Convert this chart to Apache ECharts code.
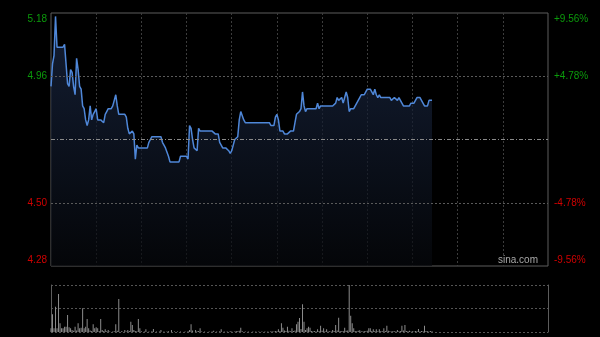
<!DOCTYPE html>
<html><head><meta charset="utf-8">
<script src="https://cdn.jsdelivr.net/npm/echarts@6/dist/echarts.min.js"></script>
<style>html,body{margin:0;padding:0;background:#000;}#c{width:600px;height:337px;}</style>
</head><body><div id="c"></div>
<script>
// ---- data ----
const prevClose = 4.73;
const sessionMinutes = 330;           // HK trading day, minute slots
const pctTicks = [-9.56, -4.78, 0, 4.78, 9.56];
const leftTickLabels = ['4.28', '4.50', '', '4.96', '5.18'];
const rightTickLabels = ['-9.56%', '-4.78%', '', '+4.78%', '+9.56%'];

const prices = [
  4.92,5.00,5.03,5.17,5.06,5.06,5.06,5.06,5.06,5.07,
  5.07,4.93,4.92,4.98,4.97,4.92,4.89,5.02,4.98,4.92,
  4.91,4.85,4.84,4.80,4.78,4.80,4.85,4.80,4.82,4.83,
  4.84,4.80,4.80,4.80,4.80,4.79,4.82,4.83,4.84,4.84,
  4.84,4.85,4.87,4.89,4.85,4.82,4.82,4.82,4.82,4.82,
  4.81,4.77,4.75,4.75,4.76,4.75,4.66,4.71,4.70,4.70,
  4.70,4.70,4.70,4.70,4.70,4.72,4.73,4.74,4.74,4.74,
  4.74,4.74,4.74,4.74,4.72,4.71,4.70,4.70,4.67,4.65,
  4.65,4.65,4.65,4.65,4.65,4.65,4.67,4.67,4.67,4.67,
  4.67,4.66,4.78,4.77,4.73,4.70,4.70,4.69,4.77,4.76,
  4.76,4.76,4.76,4.76,4.76,4.76,4.76,4.76,4.76,4.75,
  4.75,4.75,4.72,4.71,4.70,4.70,4.70,4.70,4.69,4.68,
  4.69,4.71,4.73,4.73,4.74,4.80,4.83,4.83,4.80,4.79,
  4.79,4.79,4.79,4.79,4.79,4.79,4.79,4.79,4.79,4.79,
  4.79,4.79,4.79,4.79,4.79,4.79,4.78,4.78,4.78,4.81,
  4.82,4.80,4.76,4.76,4.76,4.75,4.75,4.75,4.75,4.76,
  4.76,4.76,4.79,4.82,4.82,4.83,4.84,4.90,4.85,4.83,
  4.84,4.84,4.84,4.84,4.84,4.84,4.84,4.86,4.84,4.85,
  4.85,4.85,4.85,4.85,4.85,4.85,4.85,4.85,4.85,4.86,
  4.88,4.87,4.87,4.88,4.86,4.88,4.90,4.88,4.83,4.84,
  4.84,4.84,4.84,4.86,4.87,4.88,4.89,4.89,4.89,4.90,
  4.91,4.91,4.91,4.90,4.89,4.91,4.89,4.88,4.89,4.88,
  4.88,4.88,4.88,4.88,4.88,4.88,4.87,4.87,4.88,4.88,
  4.87,4.88,4.87,4.86,4.85,4.85,4.85,4.85,4.85,4.86,
  4.86,4.86,4.87,4.88,4.88,4.88,4.87,4.86,4.85,4.85,
  4.85,4.87,4.87,4.87
];

const volumes = [
  3700,17700,3700,25300,3700,38000,8700,3700,3700,5300,
  5300,17000,4700,3700,2000,1200,5300,1500,8700,3700,
  4300,23700,3700,5300,13000,3700,1500,1000,7700,3700,
  4700,3700,1000,13000,2000,1000,2700,800,2000,600,
  0,500,800,7700,1200,33000,0,1000,0,2000,
  500,2000,1000,10300,7000,2000,1000,800,13000,3700,
  800,0,600,2700,0,500,0,800,3000,0,
  600,0,500,2000,0,600,0,500,800,0,
  2000,0,500,0,600,0,500,0,0,600,
  0,800,2000,7700,1500,0,2000,800,1000,3700,
  600,0,500,0,0,600,0,500,1300,0,
  600,0,800,2700,0,500,0,600,0,800,
  500,0,600,1000,800,1200,4300,800,0,500,
  0,600,0,0,500,0,600,0,500,0,
  600,0,500,0,600,0,800,500,600,1000,
  800,2700,1000,8700,4300,1500,1000,5300,1200,800,
  3700,1000,1500,7700,10300,14000,3000,27700,10300,2000,
  3700,5300,4300,1000,800,1000,600,2700,1000,6300,
  1200,3700,800,2700,600,800,500,2000,1000,7000,
  1500,14300,1000,800,1000,4300,1200,1500,47000,16300,
  8700,3700,1000,800,1200,1700,800,600,1000,800,
  1200,3700,3700,1000,2700,1000,2700,800,2700,1000,
  800,3700,1000,6300,1200,800,600,1000,800,600,
  2000,800,1000,6300,1500,7000,1000,800,1300,600,
  800,600,1000,800,3000,600,1000,800,6300,1000,
  800,600,1000,800
];

// ---- build ----
const GREEN = '#0b9a0b', RED = '#d00000';
const pctData = prices.map((p, i) => [i, (p / prevClose - 1) * 100]);
const volData = volumes.map((v, i) => [i, v]);
const volMax = Math.max.apply(null, volumes);
const tickIdx = v => Math.round(v / 4.78) + 2;

const chart = echarts.init(document.getElementById('c'), null, {renderer: 'canvas'});
const labelFont = {fontSize: 10, fontFamily: 'Liberation Sans, Arial, sans-serif'};
const rich = {
  gTop: Object.assign({color: GREEN, padding: [12, 0, 0, 0]}, labelFont),
  g: Object.assign({color: GREEN}, labelFont),
  r: Object.assign({color: RED}, labelFont),
  rBot: Object.assign({color: RED, padding: [0, 0, 12, 0]}, labelFont)
};
const styleFor = k => ['rBot', 'r', 'g', 'g', 'gTop'][k];

chart.setOption({
  backgroundColor: '#000',
  animation: false,
  grid: [
    {left: 51, top: 13, width: 497, height: 253, show: true, borderColor: '#5c5c5c', borderWidth: 1},
    {left: 51, top: 285, width: 497, height: 47, show: false}
  ],
  xAxis: [
    {type: 'value', gridIndex: 0, min: 0, max: sessionMinutes, interval: 30,
     axisLine: {show: false}, axisTick: {show: false}, axisLabel: {show: false},
     splitLine: {show: true, showMinLine: false, showMaxLine: false, lineStyle: {color: '#3c3c3c', type: [2, 2], width: 1}}},
    {type: 'value', gridIndex: 1, min: 0, max: sessionMinutes, interval: 30,
     axisLine: {show: false}, axisTick: {show: false}, axisLabel: {show: false}, splitLine: {show: false}}
  ],
  yAxis: [
    {type: 'value', gridIndex: 0, position: 'left', min: pctTicks[0], max: pctTicks[4], interval: 4.78,
     axisLine: {show: false}, axisTick: {show: false}, splitLine: {show: false},
     axisLabel: {margin: 4, rich: rich, formatter: v => {
       const k = tickIdx(v); const t = leftTickLabels[k];
       return t ? '{' + styleFor(k) + '|' + t + '}' : '';
     }}},
    {type: 'value', gridIndex: 0, position: 'right', min: pctTicks[0], max: pctTicks[4], interval: 4.78,
     axisLine: {show: false}, axisTick: {show: false}, splitLine: {show: false},
     axisLabel: {margin: 6, rich: rich, formatter: v => {
       const k = tickIdx(v); const t = rightTickLabels[k];
       return t ? '{' + styleFor(k) + '|' + t + '}' : '';
     }}},
    {type: 'value', gridIndex: 1, position: 'left', min: 0, max: volMax, interval: volMax / 2,
     axisLine: {show: true, lineStyle: {color: '#5c5c5c'}}, axisTick: {show: false}, axisLabel: {show: false},
     splitLine: {show: true, lineStyle: {color: '#555', type: [2, 2]}}},
    {type: 'value', gridIndex: 1, position: 'right', min: 0, max: volMax, interval: volMax / 2,
     axisLine: {show: true, lineStyle: {color: '#5c5c5c'}}, axisTick: {show: false}, axisLabel: {show: false},
     splitLine: {show: false}}
  ],
  graphic: [
    {type: 'text', left: 498, top: 255, silent: true,
     style: {text: 'sina.com', fill: '#a8a8a8', font: '10px "Liberation Sans", Arial, sans-serif'}}
  ],
  series: [
    {type: 'line', xAxisIndex: 0, yAxisIndex: 0, data: pctData, symbol: 'none', smooth: false,
     lineStyle: {color: '#4f87d8', width: 1.5},
     areaStyle: {origin: 'start', color: new echarts.graphic.LinearGradient(0, 0, 0, 1, [
       {offset: 0, color: '#1c2b4a'}, {offset: 1, color: '#06080c'}])},
     markLine: {silent: true, symbol: 'none', label: {show: false},
       data: [
         {yAxis: 4.78, lineStyle: {color: '#5a5a5a', type: [2, 2], width: 1}},
         {yAxis: -4.78, lineStyle: {color: '#5a5a5a', type: [2, 2], width: 1}},
         {yAxis: 0, lineStyle: {color: '#8a8a8a', type: [4, 2, 1, 2], width: 1}}
       ]}},
    {type: 'bar', xAxisIndex: 1, yAxisIndex: 2, data: volData, barWidth: 1,
     itemStyle: {color: '#8c8c8c'}}
  ]
});
</script></body></html>
